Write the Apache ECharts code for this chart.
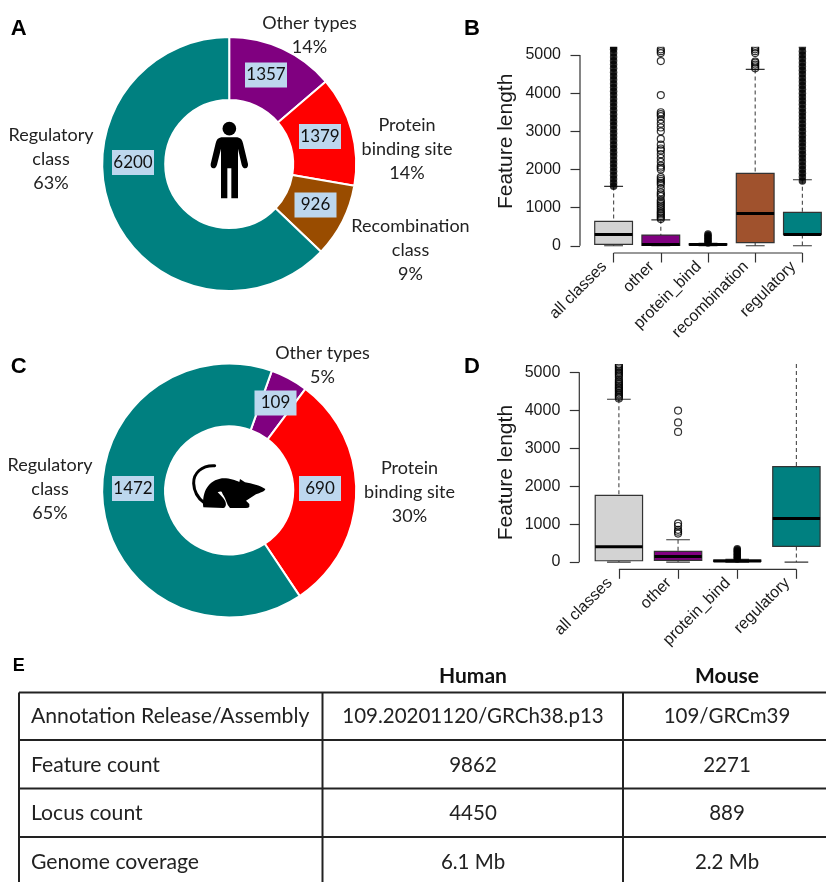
<!DOCTYPE html>
<html>
<head>
<meta charset="utf-8">
<style>
  html, body { margin: 0; padding: 0; background: #fff; }
  #main { width: 826px; height: 882px; }
</style>
<script src="https://cdn.jsdelivr.net/npm/echarts@6/dist/echarts.min.js"></script>
</head>
<body>
<div id="main"></div>
<script>
// donut panels
var humanNames = ['Other types', 'Protein\nbinding site', 'Recombination\nclass', 'Regulatory\nclass'];
var humanCounts = [1357, 1379, 926, 6200];
var humanColors = ['#800080', '#ff0000', '#994c00', '#008080'];
var mouseNames = ['Other types', 'Protein\nbinding site', 'Regulatory\nclass'];
var mouseCounts = [109, 690, 1472];
var mouseColors = ['#800080', '#ff0000', '#008080'];

// boxplots: low, q1, median, q3, high
var humanCats = ['all classes', 'other', 'protein_bind', 'recombination', 'regulatory'];
var humanBoxes = [
  [0, 35, 297, 638, 1556],
  [0, 8, 35, 280, 680],
  [0, 20, 35, 50, 65],
  [0, 80, 848, 1897, 4623],
  [0, 297, 297, 874, 1730]
];
var humanBoxColors = ['#d3d3d3', '#800080', '#800080', '#a0522d', '#008080'];
var mouseCats = ['all classes', 'other', 'protein_bind', 'regulatory'];
var mouseBoxes = [
  [0, 35, 404, 1758, 4290],
  [0, 44, 150, 281, 589],
  [0, 15, 30, 50, 70],
  [0, 413, 1151, 2514, 5400]
];
var mouseBoxColors = ['#d3d3d3', '#800080', '#800080', '#008080'];

// outliers, hollow ones are single readable points, dense ones merge to a black column
var humanOtherOut = [700, 740, 780, 820, 860, 900, 950, 1000, 1050, 1100, 1150, 1200, 1300, 1350, 1400, 1500, 1600, 1650, 1700, 1750, 1800, 2000, 2050, 2100, 2200, 2300, 2400, 2500, 2550, 2650, 2800, 3000, 3100, 3200, 3300, 3400, 3450, 3500, 3950, 4840, 5050, 5100, 5150];
var humanRecombOut = [4650, 4700, 4750, 4800, 4830, 5050, 5100, 5150, 5200];
var humanAllDense = [1560, 1650, 1750, 1850, 1950, 2050, 2150, 2250, 2350, 2450, 2550, 2650, 2750, 2850, 2950, 3050, 3150, 3250, 3350, 3450, 3550, 3650, 3750, 3850, 3950, 4050, 4150, 4250, 4350, 4450, 4550, 4650, 4750, 4850, 4950, 5050, 5150, 5210];
var humanBindDense = [75, 110, 150, 190, 230, 270, 310];
var humanRegDense = [1700, 1800, 1900, 2000, 2100, 2200, 2300, 2400, 2500, 2600, 2700, 2800, 2900, 3000, 3100, 3200, 3300, 3400, 3500, 3600, 3700, 3800, 3900, 4000, 4100, 4200, 4300, 4400, 4500, 4600, 4700, 4800, 4900, 5000, 5100, 5210];
var mouseAllOut = [4310, 4350, 4390, 4420, 4460, 4500, 4530, 4570, 4600, 4640, 4680, 4720, 4760, 4800, 4870, 4920, 4960, 5000, 5040, 5080, 5120, 5160, 5200];
var mouseOtherOut = [750, 800, 850, 950, 1020, 3430, 3680, 3990];
var mouseBindDense = [80, 120, 160, 200, 240, 280, 320, 350];

var yTicks = [0, 1000, 2000, 3000, 4000, 5000];
var yMin = -190;
var yMax = 5218;

// table panel
var tableHead = ['Human', 'Mouse'];
var tableRows = [
  ['Annotation Release/Assembly', '109.20201120/GRCh38.p13', '109/GRCm39'],
  ['Feature count', '9862', '2271'],
  ['Locus count', '4450', '889'],
  ['Genome coverage', '6.1 Mb', '2.2 Mb']
];

var uiFont = 'Lato';
var rFont = '"Liberation Sans"';

var myChart = echarts.init(document.getElementById('main'), null, { renderer: 'canvas' });

function pieSeries(center, names, counts, colors, startAngle, inner, outer) {
  var data = names.map(function(n, i) {
    return { name: n, value: counts[i], itemStyle: { color: colors[i] } };
  });
  return [
    {
      type: 'pie', center: center, radius: [64, 127], startAngle: startAngle, clockwise: true,
      silent: true, animation: false, percentPrecision: 0, z: 2,
      data: data,
      itemStyle: { borderColor: '#fff', borderWidth: 2 },
      label: {
        position: 'inside', formatter: '{c}', color: '#111', fontFamily: uiFont, fontSize: 17,
        backgroundColor: '#bdd7ee', width: 42, height: 25, lineHeight: 25, align: 'center'
      },
      labelLine: { show: false },
      labelLayout: function(p) {
        return { x: inner[p.dataIndex][0], y: inner[p.dataIndex][1], align: 'center', verticalAlign: 'middle' };
      }
    },
    {
      // same slices again, only for the outside name and percent labels
      type: 'pie', center: center, radius: [64, 127], startAngle: startAngle, clockwise: true,
      silent: true, animation: false, percentPrecision: 0, z: 1,
      data: data.map(function(d) { return { name: d.name, value: d.value, itemStyle: { color: 'transparent' } }; }),
      label: {
        position: 'outside', formatter: '{b}\n{d}%', color: '#222', fontFamily: uiFont, fontSize: 18,
        lineHeight: 24, align: 'center', overflow: 'none'
      },
      labelLine: { show: false },
      labelLayout: function(p) {
        return { x: outer[p.dataIndex][0], y: outer[p.dataIndex][1], align: 'center', verticalAlign: 'middle' };
      }
    }
  ];
}

function boxSeries(idx, boxes, colors) {
  return {
    type: 'custom', xAxisIndex: idx, yAxisIndex: idx, animation: false, silent: true, z: 3,
    data: boxes.map(function(b, i) { return [i].concat(b); }),
    clip: true,
    renderItem: function(params, api) {
      var i = api.value(0);
      var halfW = api.size([1, 0])[0] * 0.4;
      var capW = halfW / 2;
      var x = api.coord([i, 0])[0];
      var yLow = api.coord([i, api.value(1)])[1];
      var yQ1 = api.coord([i, api.value(2)])[1];
      var yMed = api.coord([i, api.value(3)])[1];
      var yQ3 = api.coord([i, api.value(4)])[1];
      var yHigh = api.coord([i, api.value(5)])[1];
      function line(x1, y1, x2, y2, style) {
        return { type: 'line', shape: { x1: x1, y1: y1, x2: x2, y2: y2 }, style: style };
      }
      var dash = { stroke: '#555', lineWidth: 1.2, lineDash: [4, 3] };
      var solid = { stroke: '#333', lineWidth: 1.2 };
      return {
        type: 'group',
        children: [
          line(x, yHigh, x, yQ3, dash),
          line(x, yQ1, x, yLow, dash),
          line(x - capW, yHigh, x + capW, yHigh, solid),
          line(x - capW, yLow, x + capW, yLow, solid),
          {
            type: 'rect',
            shape: { x: x - halfW, y: yQ3, width: halfW * 2, height: yQ1 - yQ3 },
            style: { fill: colors[i], stroke: '#333', lineWidth: 1.2 }
          },
          line(x - halfW, yMed, x + halfW, yMed, { stroke: '#000', lineWidth: 3 })
        ]
      };
    }
  };
}

function pointSeries(idx, cat, values, dense) {
  return {
    type: 'scatter', xAxisIndex: idx, yAxisIndex: idx, animation: false, silent: true, z: 4,
    symbol: 'circle', symbolSize: dense ? 7.5 : 7,
    itemStyle: dense ? { color: '#000' } : { color: 'rgba(255,255,255,0)', borderColor: '#000', borderWidth: 1.2 },
    data: values.map(function(v) { return [cat, v]; })
  };
}

// R style axis lines that stop at the first and last tick
function axisLineSeries(idx, count) {
  return {
    type: 'custom', xAxisIndex: idx, yAxisIndex: idx, animation: false, silent: true, z: 2,
    clip: false,
    data: [[0, 0]],
    renderItem: function(params, api) {
      var style = { stroke: '#333', lineWidth: 1.2 };
      var a = api.coord([0, yMin]);
      var b = api.coord([count - 1, yMin]);
      var t0 = api.coord([0, yTicks[0]]);
      var t1 = api.coord([0, yTicks[yTicks.length - 1]]);
      var xLeft = params.coordSys.x - 10;
      return {
        type: 'group',
        children: [
          { type: 'line', shape: { x1: a[0], y1: a[1], x2: b[0], y2: b[1] }, style: style },
          { type: 'line', shape: { x1: xLeft, y1: t0[1], x2: xLeft, y2: t1[1] }, style: style }
        ]
      };
    }
  };
}

function xAxisFor(idx, cats) {
  return {
    type: 'category', gridIndex: idx, data: cats, boundaryGap: true,
    axisLine: { show: false, onZero: false },
    axisTick: { show: true, alignWithLabel: true, length: 9.5, lineStyle: { color: '#333', width: 1.2 } },
    axisLabel: { rotate: 45, interval: 0, margin: 2, padding: [0, 13, 0, 0], color: '#1a1a1a', fontFamily: rFont, fontSize: 16 },
    splitLine: { show: false }
  };
}

function yAxisFor(idx, namePad) {
  return {
    type: 'value', gridIndex: idx, min: yMin, max: yMax, offset: 10,
    name: 'Feature length', nameLocation: 'middle', nameGap: 63, nameRotate: 90, nameMoveOverlap: false,
    nameTextStyle: { color: '#1a1a1a', fontFamily: rFont, fontSize: 21, padding: namePad },
    axisLine: { show: false },
    axisTick: { show: true, length: 9.5, customValues: yTicks, lineStyle: { color: '#333', width: 1.2 } },
    axisLabel: {
      customValues: yTicks, margin: 19, color: '#1a1a1a', fontFamily: rFont, fontSize: 16,
      formatter: function(v) { return String(v); }
    },
    splitLine: { show: false }
  };
}

// person and mouse icons, path units are 3x crops of the picture
var personIcon = {
  type: 'group', x: 170, y: 100, scaleX: 1 / 3, scaleY: 1 / 3,
  children: [
    { type: 'circle', shape: { cx: 178, cy: 86, r: 20.5 }, style: { fill: '#000' } },
    {
      type: 'path',
      shape: { pathData: 'M154 112 L202 112 Q216 114 219 130 L234 192 Q235 204 226 205 Q218 205 215 194 L204 146 L204 295 L184 295 L184 205 L172 205 L172 295 L153 295 L153 146 L141 194 Q138 205 130 205 Q121 204 122 192 L137 130 Q140 114 154 112 Z' },
      style: { fill: '#000' }
    }
  ]
};
var mouseIcon = {
  type: 'group', x: 170, y: 430, scaleX: 1 / 3, scaleY: 1 / 3,
  children: [
    {
      type: 'path',
      shape: { pathData: 'M134 107 C95 105 70 130 71 160 C72 185 85 205 102 218' },
      style: { fill: 'none', stroke: '#000', lineWidth: 9, lineCap: 'round' }
    },
    {
      type: 'path',
      shape: { pathData: 'M100 232 C96 195 108 155 150 146 C170 142 195 150 208 156 L210 147 L225 157 C245 160 270 167 286 177 C284 185 270 188 258 193 L228 212 L238 222 L238 230 Q236 234 228 234 L180 234 Q172 225 168 212 C165 200 158 195 155 185 Q150 183 143 187 C150 195 158 200 165 212 C170 222 168 232 160 234 Z' },
      style: { fill: '#000' }
    }
  ]
};
var iconSeries = {
  type: 'custom', coordinateSystem: 'none', animation: false, silent: true, z: 10,
  data: [[0]],
  renderItem: function() {
    return { type: 'group', children: [personIcon, mouseIcon] };
  }
};

// panel letters and table are plain graphic elements
var graphics = [];
[['A', 18.7, 28.7, 22], ['B', 472, 28.7, 22], ['C', 18.7, 367, 22], ['D', 472, 367, 22], ['E', 18.7, 666, 18]].forEach(function(p) {
  graphics.push({
    type: 'text', x: p[1], y: p[2], silent: true,
    style: { text: p[0], fill: '#000', font: 'bold ' + p[3] + 'px ' + rFont, align: 'center', verticalAlign: 'middle' }
  });
});
// scatter symbols are not cut by the grid, the plot tops are cut flat with white strips
[39, 356].forEach(function(y, i) {
  graphics.push({
    type: 'rect', silent: true, z: 20,
    shape: { x: 590, y: y, width: 236, height: i === 0 ? 7.7 : 8 },
    style: { fill: '#fff' }
  });
});

var colX = [19, 322.5, 623];
var rowY = [692.5, 740, 788.5, 837];
var tableEndX = 826;
var tableEndY = 882;
var colCenter = [473, 727];
var rowCenter = [716, 765, 813, 862];
var tableLine = { stroke: '#222', lineWidth: 2 };
rowY.forEach(function(y) {
  graphics.push({ type: 'line', silent: true, shape: { x1: colX[0], y1: y, x2: tableEndX, y2: y }, style: tableLine });
});
colX.forEach(function(x) {
  graphics.push({ type: 'line', silent: true, shape: { x1: x, y1: rowY[0], x2: x, y2: tableEndY }, style: tableLine });
});
tableHead.forEach(function(h, i) {
  graphics.push({
    type: 'text', x: colCenter[i], y: 676, silent: true,
    style: { text: h, fill: '#111', font: 'bold 21px ' + uiFont, align: 'center', verticalAlign: 'middle' }
  });
});
tableRows.forEach(function(r, i) {
  graphics.push({
    type: 'text', x: 31, y: rowCenter[i], silent: true,
    style: { text: r[0], fill: '#222', font: '21.2px ' + uiFont, align: 'left', verticalAlign: 'middle' }
  });
  [1, 2].forEach(function(c) {
    graphics.push({
      type: 'text', x: colCenter[c - 1], y: rowCenter[i], silent: true,
      style: { text: r[c], fill: '#222', font: '20.5px ' + uiFont, align: 'center', verticalAlign: 'middle' }
    });
  });
});

var series = []
  .concat(pieSeries([229.2, 164], humanNames, humanCounts, humanColors, 90,
    [[266, 75], [320, 136.5], [315.5, 205], [133, 162.5]],
    [[309.5, 35], [407, 149], [410.5, 250], [51, 159]]))
  .concat(pieSeries([229.2, 490.5], mouseNames, mouseCounts, mouseColors, 70.4,
    [[275.5, 403], [320, 488.5], [133, 488.5]],
    [[322.5, 365.5], [409.5, 492], [50, 489]]))
  .concat([
    iconSeries,
    axisLineSeries(0, humanCats.length),
    boxSeries(0, humanBoxes, humanBoxColors),
    pointSeries(0, 1, humanOtherOut, false),
    pointSeries(0, 3, humanRecombOut, false),
    pointSeries(0, 0, humanAllDense, true),
    pointSeries(0, 2, humanBindDense, true),
    pointSeries(0, 4, humanRegDense, true),
    axisLineSeries(1, mouseCats.length),
    boxSeries(1, mouseBoxes, mouseBoxColors),
    pointSeries(1, 0, mouseAllOut, false),
    pointSeries(1, 1, mouseOtherOut, false),
    pointSeries(1, 2, mouseBindDense, true)
  ]);

var option = {
  backgroundColor: '#fff',
  animation: false,
  grid: [
    { left: 590, top: 46.7, width: 240, height: 206.3 },
    { left: 589.3, top: 364, width: 237.3, height: 205.3 }
  ],
  xAxis: [xAxisFor(0, humanCats), xAxisFor(1, mouseCats)],
  yAxis: [yAxisFor(0, [0, 0, 0, 17]), yAxisFor(1, [0, 12, 0, 0])],
  series: series,
  graphic: graphics
};
myChart.setOption(option);
</script>
</body>
</html>
